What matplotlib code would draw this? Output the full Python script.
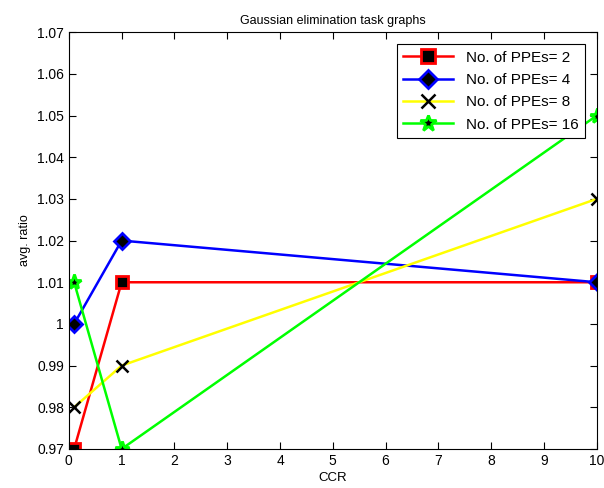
import matplotlib
matplotlib.use("Agg")
import matplotlib.pyplot as plt

ccr = [0.1, 1, 10]
ppe2 = [0.97, 1.01, 1.01]
ppe4 = [1.00, 1.02, 1.01]
ppe8 = [0.98, 0.99, 1.03]
ppe16 = [1.01, 0.97, 1.05]
labels = ["No. of PPEs= 2", "No. of PPEs= 4", "No. of PPEs= 8", "No. of PPEs= 16"]
xticks = list(range(0, 11))
yticks = [0.97, 0.98, 0.99, 1.00, 1.01, 1.02, 1.03, 1.04, 1.05, 1.06, 1.07]
ytick_labels = ["0.97", "0.98", "0.99", "1", "1.01", "1.02", "1.03", "1.04", "1.05", "1.06", "1.07"]

plt.rcParams['font.family'] = ['Liberation Sans', 'DejaVu Sans']
fig = plt.figure(figsize=(6.04, 4.88), dpi=100)
ax = fig.add_axes([0.114, 0.080, 0.874, 0.854])

ax.plot(ccr, ppe2, color='red', lw=1.8, marker='s', ms=9, mfc='black', mec='red', mew=2, label=labels[0])
ax.plot(ccr, ppe4, color='blue', lw=1.8, marker='D', ms=8, mfc='black', mec='blue', mew=2, label=labels[1])
ax.plot(ccr, ppe8, color='yellow', lw=1.8, marker='x', ms=9, mfc='black', mec='black', mew=1.8, label=labels[2])
ax.plot(ccr, ppe16, color='#00ff00', lw=1.8, marker='*', ms=11, mfc='black', mec='#00ff00', mew=2, label=labels[3])

ax.set_xlim(0, 10)
ax.set_ylim(0.97, 1.07)
ax.set_xticks(xticks)
ax.set_yticks(yticks)
ax.set_yticklabels(ytick_labels)
ax.tick_params(direction='in', top=True, right=True, labelsize=10, length=5)
for s in ax.spines.values():
    s.set_linewidth(0.8)
ax.set_title("Gaussian elimination task graphs", fontsize=9)
ax.set_xlabel("CCR", fontsize=9.5, labelpad=3)
ax.set_ylabel("avg. ratio", fontsize=9)
leg = ax.legend(loc='upper right', fontsize=11, fancybox=False, framealpha=1, edgecolor='black',
                handlelength=3.3, borderaxespad=0.8, labelspacing=0.55, markerscale=1.1)
leg.get_frame().set_linewidth(0.8)
fig.savefig("out.png", dpi=100)
